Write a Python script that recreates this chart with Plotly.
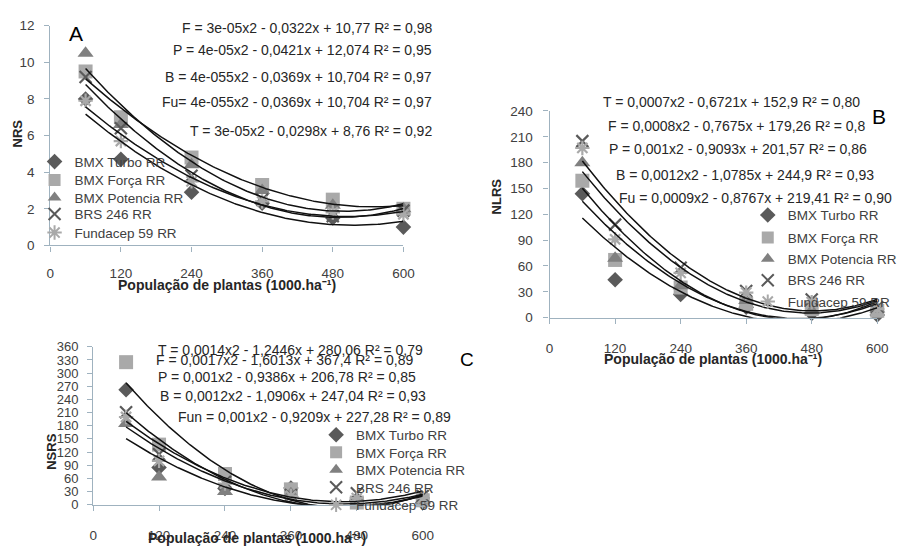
import numpy as np
import plotly.graph_objects as go

# The page adds an 8 px body margin; a 895x540 figure fills the 911x556 window exactly.
OFF = 8
W, H = 911 - 2 * OFF, 556 - 2 * OFF

# ---------------- data ----------------
pop = [60, 120, 240, 360, 480, 600]
x_ticks = [0, 120, 240, 360, 480, 600]
cultivars = ["BMX Turbo RR", "BMX Força RR", "BMX Potencia RR", "BRS 246 RR", "Fundacep 59 RR"]

# Panel A - NRS
nrs_turbo = [8.0, 4.7, 2.9, 2.3, 1.5, 1.0]
nrs_forca = [9.5, 7.0, 4.8, 3.3, 2.5, 2.0]
nrs_potencia = [10.5, 6.6, 4.4, 3.0, 2.2, 2.0]
nrs_brs246 = [9.2, 6.4, 3.8, 2.5, 1.6, 1.9]
nrs_fundacep = [7.9, 5.7, 3.5, 2.4, 1.8, 1.7]

# Panel B - NLRS
nlrs_turbo = [144, 44, 27, 12, 5, 3]
nlrs_forca = [159, 67, 35, 16, 10, 8]
nlrs_potencia = [180, 69, 37, 20, 8, 10]
nlrs_brs246 = [205, 108, 58, 31, 21, 12]
nlrs_fundacep = [197, 91, 52, 29, 18, 10]

# Panel C - NSRS
nsrs_turbo = [262, 85, 37, 38, 10, 5]
nsrs_forca = [325, 137, 70, 35, 5, 10]
nsrs_potencia = [185, 63, 30, 25, 5, 10]
nsrs_brs246 = [211, 115, 52, 22, 26, 20]
nsrs_fundacep = [200, 100, 48, 20, 15, 15]

eq_a = ["F = 3e-05x2 - 0,0322x + 10,77 R² = 0,98",
        "P = 4e-05x2 - 0,0421x + 12,074 R² = 0,95",
        "B = 4e-055x2 - 0,0369x + 10,704 R² = 0,97",
        "Fu= 4e-055x2 - 0,0369x + 10,704 R² = 0,97",
        "T = 3e-05x2 - 0,0298x + 8,76 R² = 0,92"]
eq_b = ["T = 0,0007x2 - 0,6721x + 152,9 R² = 0,80",
        "F = 0,0008x2 - 0,7675x + 179,26 R² = 0,8",
        "P = 0,001x2 - 0,9093x + 201,57 R² = 0,86",
        "B = 0,0012x2 - 1,0785x + 244,9 R² = 0,93",
        "Fu = 0,0009x2 - 0,8767x + 219,41 R² = 0,90"]
eq_c = ["T = 0,0014x2 - 1,2446x + 280,06 R² = 0,79",
        "F = 0,0017x2 - 1,6013x + 367,4 R² = 0,89",
        "P = 0,001x2 - 0,9386x + 206,78 R² = 0,85",
        "B = 0,0012x2 - 1,0906x + 247,04 R² = 0,93",
        "Fun = 0,001x2 - 0,9209x + 227,28 R² = 0,89"]

x_title = "População de plantas (1000.ha⁻¹)"

# ---------------- style ----------------
FONT = "Liberation Sans, Arial, sans-serif"
TICK_C = "#404040"
TXT_C = "#262626"
AX_C = "#9fb2bf"
sym = ["diamond", "square", "triangle-up", "x-thin-open", "asterisk-open"]
col = ["#5a5a5a", "#a9a9a9", "#808080", "#5a5a5a", "#a9a9a9"]
msize = [12, 14, 14, 12, 12]


def px(v):
    return (v - OFF) / W


def py(v):
    return 1 - (v - OFF) / H


panels = [
    dict(xa="x", ya="y", data=[nrs_turbo, nrs_forca, nrs_potencia, nrs_brs246, nrs_fundacep],
         xdom=(47, 407), ydom=(245, 19), yr=[0, 12], dt=2, xso=10, yso=7,
         leg_y=[159, 178, 196, 213, 232], leg_tx=75, leg0=1),
    dict(xa="x2", ya="y2", data=[nlrs_turbo, nlrs_forca, nlrs_potencia, nlrs_brs246, nlrs_fundacep],
         xdom=(556, 890), ydom=(319.3, 106.7), yr=[0, 240], dt=30, xso=13, yso=8,
         leg_y=[214, 237, 259, 281, 303], leg_tx=802, leg0=6),
    dict(xa="x3", ya="y3", data=[nsrs_turbo, nsrs_forca, nsrs_potencia, nsrs_brs246, nsrs_fundacep],
         xdom=(90.7, 426.7), ydom=(511.7, 349.3), yr=[0, 360], dt=30, xso=13, yso=6,
         leg_y=[440, 458, 476, 494, 512], leg_tx=362, leg0=11),
]

fig = go.Figure()
layout_extra = {}
grid = np.linspace(60, 600, 200)

for p in panels:
    for i, (name, vals) in enumerate(zip(cultivars, p["data"])):
        lg_idx = p["leg0"] + i
        lg = "legend" if lg_idx == 1 else f"legend{lg_idx}"
        fig.add_trace(go.Scatter(
            x=pop, y=vals, mode="markers", name=name, xaxis=p["xa"], yaxis=p["ya"],
            marker=dict(symbol=sym[i], size=msize[i], color=col[i],
                        line=dict(color=col[i], width=2.2 if i >= 3 else 0)),
            cliponaxis=False, legend=lg, showlegend=True))
        layout_extra[lg] = dict(
            x=px(p["leg_tx"] - 44), y=py(p["leg_y"][i]), xanchor="left", yanchor="middle",
            bgcolor="rgba(0,0,0,0)", borderwidth=0, itemsizing="constant",
            font=dict(family=FONT, size=13.5, color=TICK_C), tracegroupgap=0)
    # quadratic trend lines fitted to each series
    for vals in p["data"]:
        c = np.polyfit(pop, vals, 2)
        fig.add_trace(go.Scatter(
            x=grid, y=np.polyval(c, grid), mode="lines", xaxis=p["xa"], yaxis=p["ya"],
            line=dict(color="#111111", width=1.5), showlegend=False, hoverinfo="skip",
            cliponaxis=False))

for k, p in enumerate(panels):
    sfx = "" if k == 0 else str(k + 1)
    layout_extra["xaxis" + sfx] = dict(
        domain=[px(p["xdom"][0]), px(p["xdom"][1])], range=[0, 600], tickvals=x_ticks,
        anchor=p["ya"], showline=True, linecolor=AX_C, linewidth=1.2, ticks="outside",
        ticklen=5, tickcolor=AX_C, showgrid=False, zeroline=False, ticklabelstandoff=p["xso"],
        tickfont=dict(family=FONT, size=13.5, color=TICK_C), fixedrange=True)
    layout_extra["yaxis" + sfx] = dict(
        domain=[py(p["ydom"][0]), py(p["ydom"][1])], range=p["yr"], dtick=p["dt"],
        anchor=p["xa"], showline=True, linecolor=AX_C, linewidth=1.2, ticks="outside",
        ticklen=5, tickcolor=AX_C, showgrid=False, zeroline=False, ticklabelstandoff=p["yso"],
        tickfont=dict(family=FONT, size=13.5 if k < 2 else 13, color=TICK_C), fixedrange=True)

ann = []


def add_text(text, x, y, size=14, xanchor="left", color=TXT_C, bold=False, angle=0):
    ann.append(dict(text=f"<b>{text}</b>" if bold else text, x=px(x), y=py(y), xref="paper", yref="paper",
                    xanchor=xanchor, yanchor="middle", showarrow=False, textangle=angle,
                    font=dict(family=FONT, size=size, color=color)))


for t, yy in zip(eq_a, [21, 44, 72, 97, 127]):
    add_text(t, 438, yy, xanchor="right")
for t, xx, yy in zip(eq_b, [608, 613, 615, 622, 625], [98, 122, 146, 173, 196]):
    add_text(t, xx, yy)
for t, xx, yy in zip(eq_c, [155, 153, 155, 157, 175], [353, 363, 380, 400, 421]):
    add_text(t, xx, yy)

add_text("A", 73, 27, size=21, xanchor="center", color="#000000")
add_text("B", 892, 112, size=21, xanchor="center", color="#000000")
add_text("C", 472, 362, size=19, xanchor="center", color="#000000")

add_text("NRS", 14, 130, size=13, xanchor="center", bold=True, angle=-90)
add_text("NLRS", 502, 195, size=13, xanchor="center", bold=True, angle=-90)
add_text("NSRS", 48, 457, size=13, xanchor="center", bold=True, angle=-90)
add_text(x_title, 227, 286, size=14, xanchor="center", bold=True)
add_text(x_title, 723, 362, size=14, xanchor="center", bold=True)
add_text(x_title, 258, 546, size=14, xanchor="center", bold=True)

fig.update_layout(
    width=W, height=H, margin=dict(l=0, r=0, t=0, b=0),
    paper_bgcolor="white", plot_bgcolor="white", annotations=ann,
    font=dict(family=FONT), **layout_extra)

fig.write_html("out.html")
